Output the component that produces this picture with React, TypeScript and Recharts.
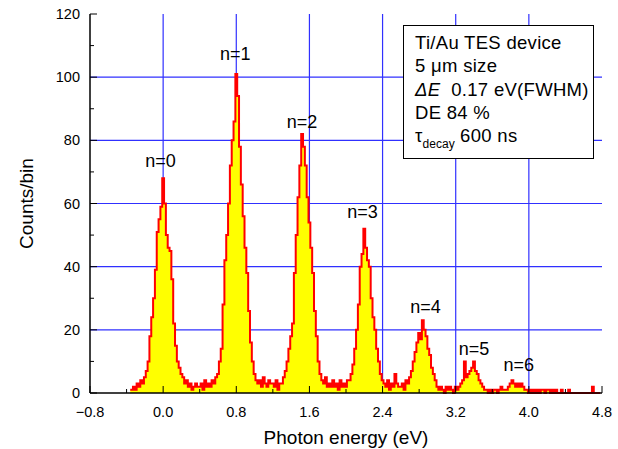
import React from "react";
import {
  ComposedChart,
  Area,
  XAxis,
  YAxis,
  CartesianGrid,
  ReferenceDot,
} from "recharts";

// Pulse-height histogram, 0.02 eV bins starting at -0.36 eV
const BIN_WIDTH = 0.02;
const FIRST_BIN = -0.36;

// counts per bin, split by peak region
const countsN0 = [
  1, 1, 2, 1, 3, 2, 4, 3, 5, 7, 10, 18, 24, 30, 39, 51, 55, 59, 68, 60, 50, 46,
  45, 36, 22, 15, 10, 8, 6, 5, 3, 4, 2, 3, 1, 2, 3, 2,
];
const countsN1 = [
  2, 3, 1, 4, 2, 3, 2, 4, 3, 5, 6, 10, 14, 28, 42, 50, 60, 72, 80, 86, 101, 94,
  78, 66, 56, 46, 38, 26, 16, 10, 6, 4, 3, 4, 2, 5, 3, 2, 4, 3,
];
const countsN2 = [
  3, 2, 4, 1, 3, 3, 5, 7, 10, 14, 18, 22, 38, 50, 62, 72, 82, 78, 72, 62, 54, 46,
  38, 26, 18, 10, 6, 4, 3, 5, 2, 3, 2, 4,
];
const countsN3 = [
  2, 3, 1, 4, 2, 3, 2, 4, 4, 6, 9, 14, 20, 28, 40, 44, 52, 46, 42, 40, 30, 24,
  20, 14, 10, 6, 4, 3, 2, 4, 1, 3, 2, 6, 3, 2,
];
const countsN4 = [
  2, 3, 1, 4, 3, 5, 7, 10, 13, 16, 19, 17, 23, 20, 18, 14, 12, 8, 6, 4, 2, 1, 2,
  1, 0, 2, 1, 2,
];
const countsN5 = [
  1, 0, 2, 1, 2, 3, 4, 10, 5, 6, 7, 8, 10, 7, 6, 4, 3, 2, 1, 1, 0, 1, 0, 1, 1, 0,
  1, 2, 1, 1,
];
const countsN6 = [
  1, 2, 3, 4, 3, 2, 3, 2, 3, 2, 1, 1, 0, 1, 0, 1, 0, 1, 0, 1, 1, 0, 1, 1, 0, 1,
  0, 1, 0, 0, 1, 0, 0, 0, 1, 0, 0, 0, 0, 0, 0, 0, 0, 0, 0, 0, 0, 2, 0, 0, 0, 0,
];

const xMajorTicks = [-0.8, 0, 0.8, 1.6, 2.4, 3.2, 4.0, 4.8];
const xMinorTicks = [-0.4, 0.4, 1.2, 2.0, 2.8, 3.6, 4.4];
const yMajorTicks = [0, 20, 40, 60, 80, 100, 120];
const yMinorTicks = [10, 30, 50, 70, 90, 110];
const xGridValues = [0, 0.8, 1.6, 2.4, 3.2, 4.0];
const yGridValues = [20, 40, 60, 80, 100];

const peakLabels = [
  { text: "n=0", energy: -0.03, counts: 73.5 },
  { text: "n=1", energy: 0.79, counts: 107.5 },
  { text: "n=2", energy: 1.52, counts: 85.8 },
  { text: "n=3", energy: 2.18, counts: 57.3 },
  { text: "n=4", energy: 2.87, counts: 27.5 },
  { text: "n=5", energy: 3.4, counts: 14.2 },
  { text: "n=6", energy: 3.89, counts: 8.9 },
];

const histogram = [
  ...countsN0,
  ...countsN1,
  ...countsN2,
  ...countsN3,
  ...countsN4,
  ...countsN5,
  ...countsN6,
].map((counts, i) => ({
  energy: Math.round((FIRST_BIN + i * BIN_WIDTH) * 100) / 100,
  counts,
}));

const xTicks = [...xMajorTicks, ...xMinorTicks].sort((a, b) => a - b);
const yTicks = [...yMajorTicks, ...yMinorTicks].sort((a, b) => a - b);

const FONT = '"Liberation Sans", Arial, sans-serif';
const GRID_BLUE = "#3030ff";

const isMajor = (v: number, majors: number[]) =>
  majors.some((m) => Math.abs(m - v) < 1e-6);

const fmtEnergy = (v: number) =>
  v < 0 ? "\u2212" + Math.abs(v).toFixed(1) : v.toFixed(1);

// ticks point into the plot frame on all four sides
function FrameTick(props: any) {
  const { x, y, payload, side } = props;
  const v = payload.value as number;
  const major =
    side === "bottom" || side === "top"
      ? isMajor(v, xMajorTicks)
      : isMajor(v, yMajorTicks);
  const len = major ? 7 : 4;

  if (side === "bottom") {
    return (
      <g>
        <line x1={x} y1={y} x2={x} y2={y - len} stroke="#000" />
        {major && (
          <text x={x} y={y + 24} textAnchor="middle" fontSize={14.5} fill="#000" fontFamily={FONT}>
            {fmtEnergy(v)}
          </text>
        )}
      </g>
    );
  }
  if (side === "top") {
    return <line x1={x} y1={y} x2={x} y2={y + len} stroke="#000" />;
  }
  if (side === "left") {
    return (
      <g>
        <line x1={x} y1={y} x2={x + len} y2={y} stroke="#000" />
        {major && (
          <text x={x - 10} y={y + 5} textAnchor="end" fontSize={14.5} fill="#000" fontFamily={FONT}>
            {v}
          </text>
        )}
      </g>
    );
  }
  return <line x1={x} y1={y} x2={x - len} y2={y} stroke="#000" />;
}

const frameLine = { stroke: "#000", strokeWidth: 1.5 };

export default function App() {
  return (
    <div
      style={{
        position: "absolute",
        left: 0,
        top: 0,
        width: 618,
        height: 449,
        background: "#fff",
        fontFamily: FONT,
      }}
    >
      <ComposedChart
        width={618}
        height={449}
        data={histogram}
        margin={{ top: 14, right: 16, bottom: 0, left: 0 }}
      >
        <CartesianGrid
          stroke={GRID_BLUE}
          strokeWidth={1.2}
          horizontalValues={yGridValues}
          verticalValues={xGridValues}
        />
        <XAxis
          dataKey="energy"
          type="number"
          domain={[-0.8, 4.8]}
          allowDataOverflow
          ticks={xTicks}
          interval={0}
          height={56}
          tickSize={0}
          tickMargin={0}
          axisLine={frameLine}
          tick={(p: any) => <FrameTick {...p} side="bottom" />}
          label={{
            content: ({ viewBox }: any) => (
              <text
                x={viewBox.x + viewBox.width / 2}
                y={viewBox.y + 51}
                textAnchor="middle"
                fontSize={19}
                fill="#000"
                fontFamily={FONT}
              >
                Photon energy (eV)
              </text>
            ),
          }}
        />
        <XAxis
          xAxisId="top"
          orientation="top"
          dataKey="energy"
          type="number"
          domain={[-0.8, 4.8]}
          allowDataOverflow
          ticks={xTicks}
          interval={0}
          height={0}
          tickSize={0}
          tickMargin={0}
          axisLine={frameLine}
          tick={(p: any) => <FrameTick {...p} side="top" />}
        />
        <YAxis
          type="number"
          domain={[0, 120]}
          ticks={yTicks}
          interval={0}
          width={90}
          tickSize={0}
          tickMargin={0}
          axisLine={frameLine}
          tick={(p: any) => <FrameTick {...p} side="left" />}
          label={{
            content: ({ viewBox }: any) => {
              const cx = viewBox.x + 26;
              const cy = viewBox.y + viewBox.height / 2;
              return (
                <text
                  x={cx}
                  y={cy}
                  transform={`rotate(-90 ${cx} ${cy})`}
                  textAnchor="middle"
                  dominantBaseline="central"
                  fontSize={19}
                  fill="#000"
                  fontFamily={FONT}
                >
                  Counts/bin
                </text>
              );
            },
          }}
        />
        <YAxis
          yAxisId="right"
          orientation="right"
          type="number"
          domain={[0, 120]}
          ticks={yTicks}
          interval={0}
          width={0}
          tickSize={0}
          tickMargin={0}
          axisLine={frameLine}
          tick={(p: any) => <FrameTick {...p} side="right" />}
        />
        <Area
          dataKey="counts"
          type="step"
          stroke="#ff0000"
          strokeWidth={2}
          fill="#ffff00"
          fillOpacity={1}
          dot={false}
          activeDot={false}
          isAnimationActive={false}
        />
        {peakLabels.map((p) => (
          <ReferenceDot
            key={p.text}
            x={p.energy}
            y={p.counts}
            r={0}
            fill="none"
            stroke="none"
            label={{
              value: p.text,
              position: "center",
              fontSize: 18,
              fill: "#000",
              fontFamily: FONT,
            }}
          />
        ))}
      </ComposedChart>

      <div
        style={{
          position: "absolute",
          left: 403,
          top: 25,
          width: 191,
          height: 134,
          border: "1.5px solid #000",
          background: "#fff",
          boxSizing: "border-box",
          padding: "5px 0 0 11px",
          fontSize: 18.5,
          letterSpacing: 0.3,
          lineHeight: "23.3px",
          color: "#000",
          whiteSpace: "nowrap",
        }}
      >
        <div>Ti/Au TES device</div>
        <div>5 μm size</div>
        <div>
          <i>ΔE</i>&nbsp; 0.17 eV(FWHM)
        </div>
        <div>DE 84 %</div>
        <div>
          τ
          <span style={{ fontSize: 12, position: "relative", top: 6, letterSpacing: 0 }}>decay</span>{" "}
          600 ns
        </div>
      </div>
    </div>
  );
}
